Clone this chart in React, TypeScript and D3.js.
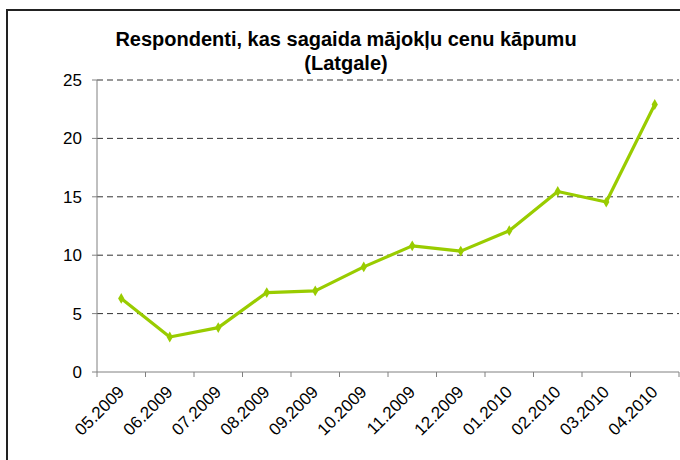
import { scaleBand, scaleLinear, line, symbol, symbolDiamond } from "d3";

const months = [
    "05.2009", "06.2009", "07.2009", "08.2009", "09.2009", "10.2009",
    "11.2009", "12.2009", "01.2010", "02.2010", "03.2010", "04.2010"
];
const respondents = [6.3, 3.0, 3.8, 6.8, 6.95, 9.0, 10.8, 10.35, 12.1, 15.45, 14.55, 22.9];
const yTicks = [0, 5, 10, 15, 20, 25];

const titleLines = ["Respondenti, kas sagaida mājokļu cenu kāpumu", "(Latgale)"];

export default function App() {
    const margin = { top: 80, left: 97, right: 679, bottom: 372 };
    const font = "'Liberation Sans', Arial, sans-serif";
    const green = "#99cc00";

    const x = scaleBand().domain(months).range([margin.left, margin.right]).padding(0);
    const y = scaleLinear().domain([0, 25]).range([margin.bottom, margin.top]);
    const cx = (m: string) => (x(m) ?? 0) + x.bandwidth() / 2;

    const path = line<number>()
        .x((_, i) => cx(months[i]))
        .y((d) => y(d))(respondents);
    const diamond = symbol().type(symbolDiamond).size(34)();

    const boundaries = months.map((m) => x(m) ?? 0).concat(margin.right);

    return (
        <svg
            width={680}
            height={460}
            style={{ position: "absolute", left: 0, top: 0, background: "#fff" }}
        >
            <rect x={7} y={10} width={700} height={480} fill="#fff" stroke="#222" strokeWidth={2} />

            {titleLines.map((t, i) => (
                <text
                    key={t}
                    x={346}
                    y={46 + i * 24}
                    textAnchor="middle"
                    fontFamily={font}
                    fontWeight="bold"
                    fontSize={20}
                    fill="#000"
                >
                    {t}
                </text>
            ))}

            {/* grid + y axis */}
            {yTicks.map((t) => (
                <g key={`y-${t}`}>
                    {t > 0 && (
                        <line
                            x1={margin.left}
                            x2={margin.right}
                            y1={y(t)}
                            y2={y(t)}
                            stroke="#333"
                            strokeWidth={1}
                            strokeDasharray="6,4"
                        />
                    )}
                    <line x1={margin.left - 5} x2={margin.left} y1={y(t)} y2={y(t)} stroke="#808080" />
                    <text
                        x={margin.left - 15}
                        y={y(t)}
                        dy="0.35em"
                        textAnchor="end"
                        fontFamily={font}
                        fontSize={17}
                        fill="#000"
                    >
                        {t}
                    </text>
                </g>
            ))}
            <line x1={margin.left} x2={margin.left} y1={margin.top} y2={margin.bottom} stroke="#808080" />

            {/* x axis */}
            <line x1={margin.left} x2={margin.right} y1={margin.bottom} y2={margin.bottom} stroke="#808080" />
            {boundaries.map((b, i) => (
                <line key={`xt-${i}`} x1={b} x2={b} y1={margin.bottom} y2={margin.bottom + 5} stroke="#808080" />
            ))}
            {months.map((m) => (
                <text
                    key={`xl-${m}`}
                    transform={`translate(${cx(m) + 4}, ${margin.bottom + 21}) rotate(-45)`}
                    textAnchor="end"
                    fontFamily={font}
                    fontSize={17}
                    fill="#000"
                >
                    {m}
                </text>
            ))}

            <path d={path ?? ""} fill="none" stroke={green} strokeWidth={3.2} strokeLinejoin="round" />
            {respondents.map((v, i) => (
                <path
                    key={`pt-${i}`}
                    d={diamond ?? ""}
                    transform={`translate(${cx(months[i])}, ${y(v)})`}
                    fill={green}
                />
            ))}
        </svg>
    );
}
